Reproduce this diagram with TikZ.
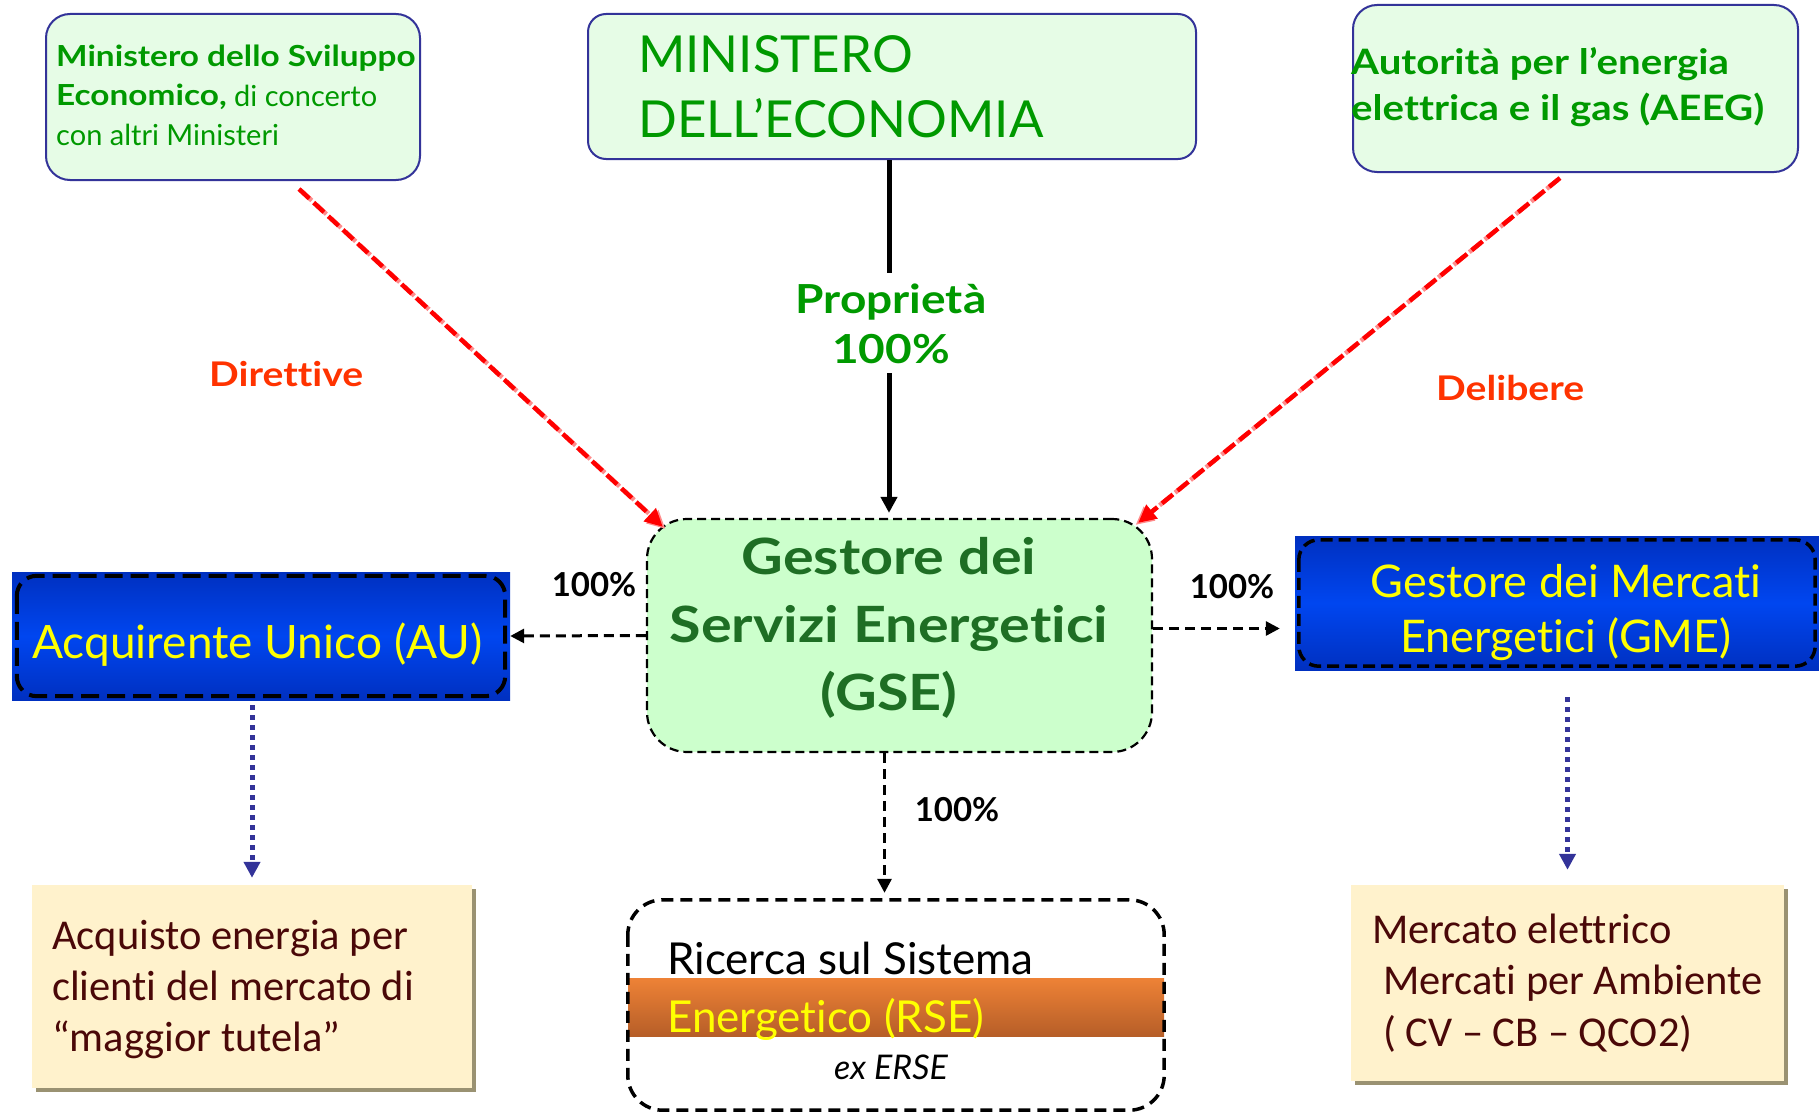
\documentclass[tikz,border=0pt]{standalone}
\usepackage{fontspec}
\setmainfont[Ligatures=NoCommon]{Lato}
\newfontfamily\wide[FakeStretch=1.15,Ligatures=NoCommon]{Lato}
\newfontfamily\calfont[Ligatures=NoCommon]{Carlito}
\usetikzlibrary{arrows.meta,shadows}
\definecolor{navy}{HTML}{333399}
\definecolor{mint}{HTML}{E6FCE6}
\definecolor{gsefill}{HTML}{CCFFCC}
\definecolor{tgreen}{HTML}{009900}
\definecolor{dgreen}{HTML}{1E6E24}
\definecolor{redlab}{HTML}{FF3300}
\definecolor{blueA}{HTML}{0030C0}
\definecolor{blueB}{HTML}{0046F0}
\definecolor{cream}{HTML}{FFF2CC}
\definecolor{maroon}{HTML}{4A0808}
\definecolor{shadowc}{HTML}{9A9272}
\definecolor{orangeA}{HTML}{EE8236}
\definecolor{orangeB}{HTML}{B65E28}
\definecolor{pinkc}{HTML}{FF8C8C}
\definecolor{yel}{HTML}{FFFF00}
\newcommand{\myfs}[2]{\fontsize{#1}{#2}\selectfont}
\begin{document}
\begin{tikzpicture}[x=1pt,y=-1pt,
  topbox/.style={draw=navy, line width=2pt, fill=mint, rounded corners=24pt, inner sep=0pt},
  txt/.style={inner sep=0pt},
  bluebox/.style={inner sep=0pt, top color=blueA, bottom color=blueA, middle color=blueB},
  thickdash/.style={line width=4pt, dash pattern=on 18pt off 8pt, rounded corners=20pt},
  creambox/.style={fill=cream, inner sep=0pt, drop shadow={shadow xshift=4pt, shadow yshift=-4pt, fill=shadowc, opacity=1}},
  redarr/.style={line width=4.5pt, red, dash pattern=on 14pt off 6pt, -{Triangle[length=18pt,width=17pt]}},
  redshd/.style={line width=4.5pt, pinkc, dash pattern=on 14pt off 6pt, -{Triangle[length=18pt,width=17pt]}},
  blkdash/.style={line width=3pt, dash pattern=on 10pt off 6pt, -{Triangle[length=14pt,width=14pt]}},
  dotarr/.style={line width=5pt, navy, dash pattern=on 5pt off 5pt, -{Triangle[length=16pt,width=16pt]}},
  pct/.style={inner sep=0pt, font={\bfseries\myfs{33}{36}}},
  redlabel/.style={inner sep=0pt, anchor=base west, text=redlab, font={\wide\bfseries\myfs{34}{40}}}
]
\useasboundingbox (0,0) rectangle (1819,1113);

% top boxes
\node[topbox, minimum width=374pt, minimum height=166pt] (mse) at (233,97) {};
\node[txt, anchor=base west, align=left, text=tgreen, font={\myfs{29}{39}}] (mset) at (56,145)
  {{\wide\bfseries Ministero dello Sviluppo}\\{\wide\bfseries Economico,} di concerto\\con altri Ministeri};

\node[topbox, rounded corners=18pt, minimum width=608pt, minimum height=145pt] (mde) at (892,86.5) {};
\node[txt, anchor=base west, align=left, text=tgreen, font={\myfs{51}{64}}] (mdet) at (638,137)
  {MINISTERO\\DELL’ECONOMIA};

\node[topbox, minimum width=445pt, minimum height=167pt] (aeeg) at (1575.5,88.5) {};
\node[txt, anchor=base west, align=left, text=tgreen, font={\wide\bfseries\myfs{35}{46}}] (aeegt) at (1351,121)
  {Autorità per l’energia\\elettrica e il gas (AEEG)};

% GSE
\node[draw, line width=2.2pt, dash pattern=on 9pt off 5pt, fill=gsefill, rounded corners=40pt, inner sep=0pt,
  minimum width=505pt, minimum height=233pt] (gse) at (899.5,635.5) {};
\node[txt, anchor=base, align=center, text=dgreen, font={\wide\bfseries\myfs{50}{68}}] (gset) at (889,710)
  {Gestore dei\\Servizi Energetici\\(GSE)};

% AU
\node[bluebox, minimum width=498pt, minimum height=128pt] (au) at (261,636) {};
\draw[thickdash] ([shift={(5pt,-4pt)}]au.north west) rectangle ([shift={(-5pt,4pt)}]au.south east);
\node[txt, anchor=base, text=yel, font={\myfs{46}{50}}] (aut) at (257.5,658) {Acquirente Unico (AU)};

% GME
\node[bluebox, minimum width=524pt, minimum height=134pt] (gme) at (1557,603) {};
\draw[thickdash, line width=3.5pt, dash pattern=on 12pt off 6pt] ([shift={(4pt,-4pt)}]gme.north west) rectangle ([shift={(-4pt,4pt)}]gme.south east);
\node[txt, anchor=base, align=center, text=yel, font={\myfs{45}{55}}] (gmet) at (1566,652)
  {Gestore dei Mercati\\Energetici (GME)};

% RSE
\node[fill=white, inner sep=0pt, minimum width=536pt, minimum height=210pt] (rse) at (896,1005) {};
\fill[top color=orangeA, bottom color=orangeB] (628,978) rectangle (1164,1036);
\draw[thickdash, line width=3.5pt, dash pattern=on 12pt off 7pt, rounded corners=35pt] (rse.north west) rectangle (rse.south east);
\node[txt, anchor=base west, align=left, font={\myfs{44}{58}}] (rset) at (667,1032)
  {Ricerca sul Sistema\\\textcolor{yel}{Energetico (RSE)}};
\node[txt, anchor=base, font={\itshape\myfs{34}{36}}] (erse) at (891,1079) {ex ERSE};

% bottom boxes
\node[creambox, minimum width=440pt, minimum height=203pt] (acq) at (252,986.5) {};
\node[txt, anchor=base west, align=left, text=maroon, font={\calfont\myfs{42.5}{51}}] (acqt) at (52,1051)
  {Acquisto energia per\\clienti del mercato di\\“maggior tutela”};

\node[creambox, minimum width=433pt, minimum height=196pt] (merc) at (1567.5,983) {};
\node[txt, anchor=base west, align=left, text=maroon, font={\calfont\myfs{42.5}{51.5}}] (merct) at (1372,1046)
  {Mercato elettrico\\\hspace*{11pt}Mercati per Ambiente\\\hspace*{11pt}( CV – CB – QCO2)};

% labels
\node[redlabel] (dir) at (209,386) {Direttive};
\node[redlabel] (del) at (1436,400) {Delibere};

% connectors
\draw[line width=5pt, -{Triangle[length=16pt,width=16pt]}, shorten >=5pt] ([xshift=-3pt]mde.south) -- ([xshift=-3pt]mde.south |- gse.north);
\node[fill=white, inner xsep=6pt, inner ysep=10pt, anchor=base, align=center, text=tgreen, font={\wide\bfseries\myfs{40}{50}}] (prop) at (891,363) {Proprietà\\100\%};

\draw[redshd, transform canvas={shift={(2.5pt,-2pt)}}] ([shift={(66pt,-8pt)}]mse.south) -- ([shift={(17pt,-9pt)}]gse.north west);
\draw[redarr] ([shift={(66pt,-8pt)}]mse.south) -- ([shift={(17pt,-9pt)}]gse.north west);
\draw[redshd, transform canvas={shift={(-2.5pt,-2pt)}}] ([shift={(-15.5pt,-5pt)}]aeeg.south) -- ([shift={(-15pt,-5pt)}]gse.north east);
\draw[redarr] ([shift={(-15.5pt,-5pt)}]aeeg.south) -- ([shift={(-15pt,-5pt)}]gse.north east);

\draw[blkdash] (gse.west) -- (au.east);
\node[pct, anchor=base] (p1) at (594,596) {100\%};
\draw[blkdash, shorten >=15pt] ([yshift=7pt]gse.east) -- ([yshift=7pt]gse.east -| gme.west);
\node[pct, anchor=base] (p2) at (1232,598) {100\%};
\draw[blkdash, shorten >=7pt] ([xshift=-15pt]gse.south) -- ([xshift=-15pt]gse.south |- rse.north);
\node[pct, anchor=base] (p3) at (957,821) {100\%};

\draw[dotarr, shorten <=5pt, shorten >=7pt] (acq.north |- au.south) -- (acq.north);
\draw[dotarr, shorten <=27pt, shorten >=15pt] (merc.north |- gme.south) -- (merc.north);
\end{tikzpicture}
\end{document}
